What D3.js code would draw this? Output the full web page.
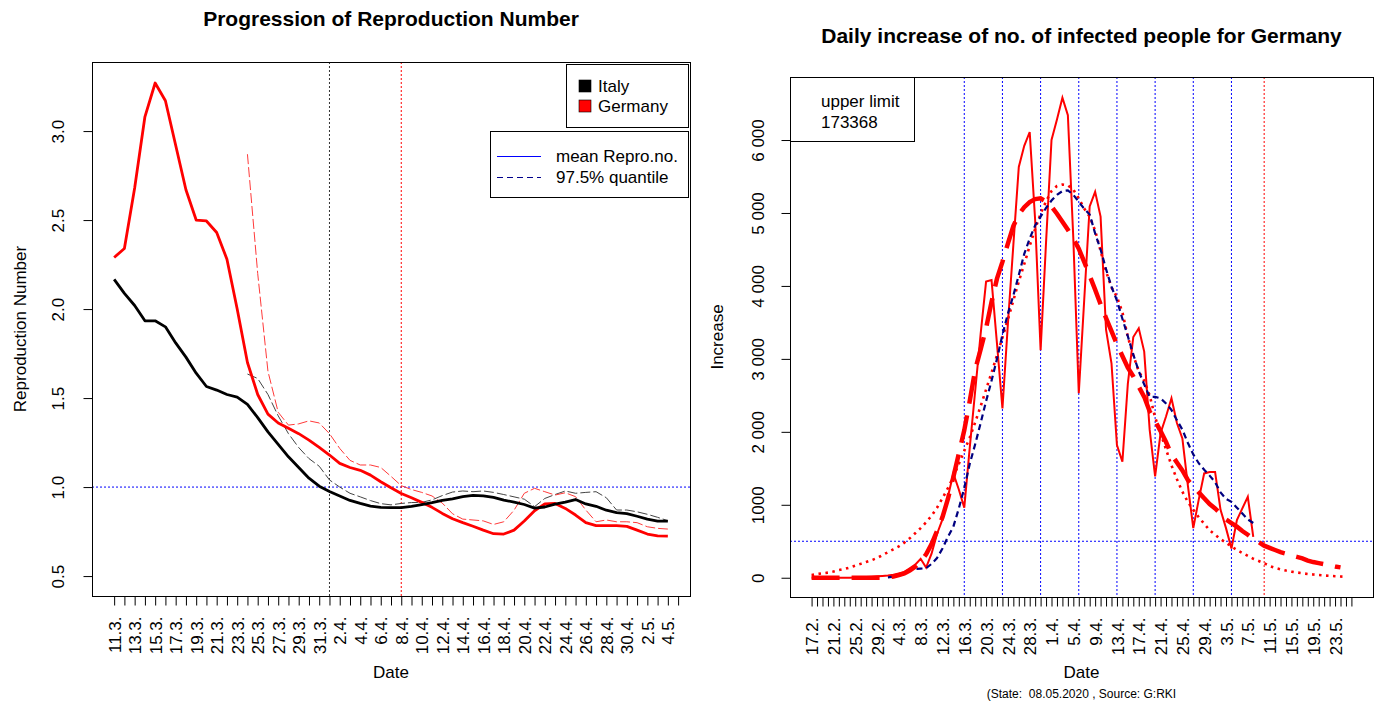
<!DOCTYPE html>
<html>
<head>
<meta charset="utf-8">
<script src="https://cdn.jsdelivr.net/npm/d3@7"></script>
<style>
  body { margin: 0; background: #fff; }
  svg { font-family: "Liberation Sans", Arial, sans-serif; }
</style>
</head>
<body>
<script>
// ---------------- data: left panel (day 0 = 11.3.) ----------------
const leftDateLabels = ["11.3.","13.3.","15.3.","17.3.","19.3.","21.3.","23.3.","25.3.","27.3.","29.3.",
  "31.3.","2.4.","4.4.","6.4.","8.4.","10.4.","12.4.","14.4.","16.4.","18.4.","20.4.","22.4.",
  "24.4.","26.4.","28.4.","30.4.","2.5.","4.5."];
const leftTickCount = 56;
const leftYTicks = [0.5, 1.0, 1.5, 2.0, 2.5, 3.0];

const germanyR = [2.29, 2.34, 2.68, 3.08, 3.27, 3.17, 2.92, 2.67, 2.50, 2.495, 2.43, 2.28, 2.00, 1.70,
  1.52, 1.41, 1.36, 1.33, 1.30, 1.264, 1.223, 1.18, 1.133, 1.11, 1.094, 1.067, 1.03, 0.996, 0.964,
  0.94, 0.914, 0.886, 0.852, 0.822, 0.80, 0.78, 0.758, 0.738, 0.736, 0.758, 0.809, 0.867, 0.905,
  0.908, 0.88, 0.843, 0.80, 0.783, 0.783, 0.783, 0.779, 0.758, 0.736, 0.726, 0.724];
const italyR = [2.167, 2.088, 2.02, 1.934, 1.934, 1.90, 1.81, 1.73, 1.64, 1.565, 1.545, 1.52, 1.505,
  1.465, 1.39, 1.31, 1.24, 1.17, 1.11, 1.05, 1.005, 0.975, 0.95, 0.925, 0.908, 0.893, 0.886, 0.885,
  0.885, 0.892, 0.902, 0.912, 0.925, 0.934, 0.946, 0.953, 0.951, 0.942, 0.927, 0.915, 0.902, 0.882,
  0.888, 0.904, 0.916, 0.93, 0.905, 0.892, 0.87, 0.856, 0.851, 0.836, 0.82, 0.809, 0.809];
// 97.5% quantiles start at day 13 (24.3.)
const quantileStart = 13;
const germanyQ = [2.87, 2.2, 1.65, 1.42, 1.348, 1.355, 1.372, 1.36, 1.30, 1.217, 1.15, 1.124, 1.124,
  1.11, 1.06, 1.008, 0.986, 0.97, 0.95, 0.91, 0.85, 0.82, 0.815, 0.81, 0.79, 0.805, 0.87, 0.965,
  0.993, 0.974, 0.955, 0.968, 0.946, 0.871, 0.805, 0.815, 0.805, 0.805, 0.80, 0.777, 0.768, 0.764];
const italyQ = [1.635, 1.61, 1.52, 1.40, 1.30, 1.222, 1.16, 1.117, 1.04, 1.0, 0.965, 0.945, 0.924,
  0.907, 0.90, 0.908, 0.913, 0.914, 0.928, 0.952, 0.972, 0.978, 0.974, 0.978, 0.97, 0.958, 0.945,
  0.932, 0.89, 0.936, 0.958, 0.978, 0.965, 0.97, 0.974, 0.94, 0.871, 0.871, 0.861, 0.847, 0.83, 0.811];
const leftMarkBlack = 21;   // 1.4.
const leftMarkRed = 28;     // 8.4.
const leftThreshold = 1.0;

// ---------------- data: right panel (day 0 = 17.2.) ----------------
const rightDateLabels = ["17.2.","21.2.","25.2.","29.2.","4.3.","8.3.","12.3.","16.3.","20.3.","24.3.",
  "28.3.","1.4.","5.4.","9.4.","13.4.","17.4.","21.4.","25.4.","29.4.","3.5.","7.5.","11.5.",
  "15.5.","19.5.","23.5."];
const rightTickCount = 100;
const rightYTicks = [0, 1000, 2000, 3000, 4000, 5000, 6000];
const rightYLabels = ["0", "1000", "2 000", "3 000", "4 000", "5 000", "6 000"];

const dailyIncrease = [0, 0, 0, 0, 0, 0, 0, 0, 2, 5,
  10, 15, 20, 25, 30, 40, 60, 80, 130, 180,
  260, 140, 330, 600, 800, 1110, 1430, 1210, 960, 1780,
  2560, 3340, 4060, 4080, 3210, 2320, 3480, 4560, 5630, 5920,
  6110, 4900, 3120, 4600, 6000, 6280, 6580, 6340, 4650, 2530,
  3810, 5090, 5290, 4950, 3400, 2940, 1820, 1590, 2660, 3300,
  3420, 3100, 2030, 1390, 1980, 2210, 2460, 2120, 1910, 1270,
  680, 1070, 1430, 1450, 1450, 930, 680, 400, 790, 950,
  1110, 560];
const fitMean = [0, 0, 0, 0, 0, 0, 0, 0, 0, 0,
  0, 0, 0, 0, 5, 15, 35, 60, 100, 150,
  220, 320, 460, 640, 830, 1080, 1380, 1700, 2020, 2420,
  2850, 3130, 3420, 3780, 4100, 4330, 4580, 4820, 4980, 5080,
  5150, 5190, 5200, 5160, 5090, 4990, 4880, 4770, 4650, 4510,
  4330, 4140, 3950, 3750, 3560, 3380, 3200, 3040, 2880, 2760,
  2620, 2480, 2280, 2150, 2010, 1860, 1690, 1580, 1470, 1340,
  1250, 1170, 1090, 1010, 950, 880, 800, 750, 700, 640,
  590, 530, 490, 440, 410, 380, 350, 330, 305, 285,
  265, 235, 215, 200, 185, 170, 155, 142];
const fitWide = [37, 50, 60, 70, 85, 105, 120, 140, 165, 190,
  215, 240, 270, 310, 350, 390, 430, 480, 540, 610,
  680, 760, 850, 960, 1090, 1230, 1380, 1560, 1740, 1920,
  2130, 2350, 2580, 2810, 3050, 3290, 3540, 3800, 4060, 4300,
  4550, 4780, 4990, 5160, 5300, 5370, 5390, 5380, 5320, 5200,
  5060, 4950, 4760, 4480, 4200, 3980, 3850, 3640, 3300, 3050,
  2830, 2700, 2500, 2200, 1980, 1760, 1540, 1350, 1180, 1040,
  930, 830, 740, 650, 590, 530, 480, 430, 380, 340,
  300, 260, 230, 200, 160, 135, 115, 98, 84, 72,
  62, 52, 44, 37, 31, 26, 21, 17, 14];
const fitNavyStart = 14;
const fitNavy = [5, 15, 35, 70, 100, 120, 125, 130, 190, 270,
  400, 560, 700, 950, 1230, 1560, 1830, 2120, 2420, 2700,
  3000, 3330, 3620, 3870, 4150, 4440, 4650, 4830, 4950, 5070,
  5170, 5250, 5300, 5310, 5250, 5150, 5060, 4980, 4720, 4500,
  4230, 3990, 3800, 3550, 3310, 3060, 2830, 2650, 2480, 2480,
  2460, 2390, 2300, 2160, 2030, 1850, 1690, 1570, 1480, 1400,
  1310, 1170, 1080, 1040, 960, 880, 800, 750];
const rightWeekDays = [28, 35, 42, 49, 56, 63, 70, 77];
const rightMarkRed = 83;
const rightThreshold = 500;
const upperLimit = "173368";

// ---------------- canvas ----------------
const svg = d3.select("body").append("svg")
  .attr("width", 1382)
  .attr("height", 702);

const FS = 17;

function styleAxis(g) {
  g.attr("font-size", FS).attr("font-family", null);
  g.select(".domain").remove();
  g.selectAll(".tick line").attr("stroke", "#000");
  g.selectAll(".tick text").attr("fill", "#000");
}

// ================= LEFT PANEL =================
const L = { left: 92, right: 690, top: 62, bottom: 596 };
const xL = d3.scaleLinear().domain([-2.16, 56.16]).range([L.left, L.right]);
const yL = d3.scaleLinear().domain([0.388, 3.388]).range([L.bottom, L.top]);

// reference lines
svg.append("line")
  .attr("x1", L.left).attr("x2", L.right)
  .attr("y1", yL(leftThreshold)).attr("y2", yL(leftThreshold))
  .attr("stroke", "#0000ff").attr("stroke-dasharray", "2,2");
svg.append("line")
  .attr("x1", xL(leftMarkBlack)).attr("x2", xL(leftMarkBlack))
  .attr("y1", L.top).attr("y2", L.bottom)
  .attr("stroke", "#333").attr("stroke-dasharray", "2,2");
svg.append("line")
  .attr("x1", xL(leftMarkRed)).attr("x2", xL(leftMarkRed))
  .attr("y1", L.top).attr("y2", L.bottom)
  .attr("stroke", "#ff0000").attr("stroke-dasharray", "2,2");

const lineL = d3.line().x(d => xL(d.day)).y(d => yL(d.v));
const asPoints = (arr, start) => arr.map((v, i) => ({ day: start + i, v }));

// 97.5% quantiles (thin dashed)
svg.append("path").datum(asPoints(italyQ, quantileStart))
  .attr("d", lineL).attr("fill", "none")
  .attr("stroke", "#444").attr("stroke-width", 1).attr("stroke-dasharray", "10,3");
svg.append("path").datum(asPoints(germanyQ, quantileStart))
  .attr("d", lineL).attr("fill", "none")
  .attr("stroke", "#ff3a3a").attr("stroke-width", 1).attr("stroke-dasharray", "10,3");

// mean reproduction numbers (thick)
svg.append("path").datum(asPoints(germanyR, 0))
  .attr("d", lineL).attr("fill", "none")
  .attr("stroke", "#ff0000").attr("stroke-width", 2.8).attr("stroke-linejoin", "round");
svg.append("path").datum(asPoints(italyR, 0))
  .attr("d", lineL).attr("fill", "none")
  .attr("stroke", "#000").attr("stroke-width", 2.8).attr("stroke-linejoin", "round");

// box
svg.append("rect")
  .attr("x", L.left + 0.5).attr("y", L.top + 0.5)
  .attr("width", L.right - L.left).attr("height", L.bottom - L.top)
  .attr("fill", "none").attr("stroke", "#000");

// axes
const axLB = svg.append("g")
  .attr("transform", `translate(0,${L.bottom + 0.5})`)
  .call(d3.axisBottom(xL).tickValues(d3.range(leftTickCount)).tickSize(9)
    .tickFormat(d => d % 2 === 0 ? leftDateLabels[d / 2] : ""));
styleAxis(axLB);
axLB.selectAll(".tick text")
  .attr("transform", "rotate(-90)").attr("text-anchor", "end")
  .attr("x", -20).attr("y", 0).attr("dy", "0.36em");

const axLL = svg.append("g")
  .attr("transform", `translate(${L.left + 0.5},0)`)
  .call(d3.axisLeft(yL).tickValues(leftYTicks).tickSize(9).tickFormat(d3.format(".1f")));
styleAxis(axLL);
axLL.selectAll(".tick text")
  .attr("transform", "rotate(-90)").attr("text-anchor", "middle")
  .attr("x", 0).attr("y", -29).attr("dy", 0);

// titles and labels
svg.append("text")
  .attr("x", (L.left + L.right) / 2).attr("y", 26)
  .attr("text-anchor", "middle").attr("font-size", 21).attr("font-weight", "bold")
  .text("Progression of Reproduction Number");
svg.append("text")
  .attr("x", (L.left + L.right) / 2).attr("y", 678)
  .attr("text-anchor", "middle").attr("font-size", FS)
  .text("Date");
svg.append("text")
  .attr("transform", `translate(26,${(L.top + L.bottom) / 2}) rotate(-90)`)
  .attr("text-anchor", "middle").attr("font-size", FS)
  .text("Reproduction Number");

// legend: countries
const leg1 = svg.append("g").attr("transform", "translate(566,64)");
leg1.append("rect").attr("x", 0.5).attr("y", 0.5).attr("width", 122).attr("height", 63)
  .attr("fill", "#fff").attr("stroke", "#000");
[["Italy", "#000"], ["Germany", "#ff0000"]].forEach(([name, col], i) => {
  leg1.append("rect").attr("x", 13).attr("y", 16 + i * 20).attr("width", 12).attr("height", 12)
    .attr("fill", col).attr("stroke", "#000").attr("stroke-width", 0.6);
  leg1.append("text").attr("x", 32).attr("y", 28 + i * 20).attr("font-size", FS).text(name);
});

// legend: line types
const leg2 = svg.append("g").attr("transform", "translate(490,131)");
leg2.append("rect").attr("x", 0.5).attr("y", 0.5).attr("width", 198).attr("height", 66)
  .attr("fill", "#fff").attr("stroke", "#000");
leg2.append("line").attr("x1", 7).attr("x2", 51).attr("y1", 25.5).attr("y2", 25.5)
  .attr("stroke", "#0000ff");
leg2.append("line").attr("x1", 7).attr("x2", 51).attr("y1", 46.5).attr("y2", 46.5)
  .attr("stroke", "#00008b").attr("stroke-dasharray", "6,4");
leg2.append("text").attr("x", 66).attr("y", 31).attr("font-size", FS).text("mean Repro.no.");
leg2.append("text").attr("x", 66).attr("y", 52).attr("font-size", FS).text("97.5% quantile");

// ================= RIGHT PANEL =================
const R = { left: 790, right: 1373, top: 77, bottom: 597 };
const xR = d3.scaleLinear().domain([-3.96, 102.96]).range([R.left, R.right]);
const yR = d3.scaleLinear().domain([-264, 6864]).range([R.bottom, R.top]);

rightWeekDays.forEach(d => {
  svg.append("line")
    .attr("x1", xR(d)).attr("x2", xR(d)).attr("y1", R.top).attr("y2", R.bottom)
    .attr("stroke", "#0000ff").attr("stroke-dasharray", "2,2");
});
svg.append("line")
  .attr("x1", xR(rightMarkRed)).attr("x2", xR(rightMarkRed)).attr("y1", R.top).attr("y2", R.bottom)
  .attr("stroke", "#ff0000").attr("stroke-dasharray", "2,2");
svg.append("line")
  .attr("x1", R.left).attr("x2", R.right)
  .attr("y1", yR(rightThreshold)).attr("y2", yR(rightThreshold))
  .attr("stroke", "#0000ff").attr("stroke-dasharray", "2,2");

const lineR = d3.line().x(d => xR(d.day)).y(d => yR(d.v));

svg.append("path").datum(asPoints(dailyIncrease, 0))
  .attr("d", lineR).attr("fill", "none")
  .attr("stroke", "#ff0000").attr("stroke-width", 2);
svg.append("path").datum(asPoints(fitWide, 0))
  .attr("d", lineR).attr("fill", "none")
  .attr("stroke", "#ff0000").attr("stroke-width", 2.6).attr("stroke-dasharray", "2.5,4.5");
svg.append("path").datum(asPoints(fitNavy, fitNavyStart))
  .attr("d", lineR).attr("fill", "none")
  .attr("stroke", "#000080").attr("stroke-width", 2.2).attr("stroke-dasharray", "6,4");
svg.append("path").datum(asPoints(fitMean, 0))
  .attr("d", lineR).attr("fill", "none")
  .attr("stroke", "#ff0000").attr("stroke-width", 4.5).attr("stroke-dasharray", "28,12");

svg.append("rect")
  .attr("x", R.left + 0.5).attr("y", R.top + 0.5)
  .attr("width", R.right - R.left).attr("height", R.bottom - R.top)
  .attr("fill", "none").attr("stroke", "#000");

const axRB = svg.append("g")
  .attr("transform", `translate(0,${R.bottom + 0.5})`)
  .call(d3.axisBottom(xR).tickValues(d3.range(rightTickCount)).tickSize(9)
    .tickFormat(d => d % 4 === 0 && d / 4 < rightDateLabels.length ? rightDateLabels[d / 4] : ""));
styleAxis(axRB);
axRB.selectAll(".tick text")
  .attr("transform", "rotate(-90)").attr("text-anchor", "end")
  .attr("x", -20).attr("y", 0).attr("dy", "0.36em");

const axRL = svg.append("g")
  .attr("transform", `translate(${R.left + 0.5},0)`)
  .call(d3.axisLeft(yR).tickValues(rightYTicks).tickSize(9)
    .tickFormat((d, i) => rightYLabels[i]));
styleAxis(axRL);
axRL.selectAll(".tick text")
  .attr("transform", "rotate(-90)").attr("text-anchor", "middle")
  .attr("x", 0).attr("y", -27).attr("dy", 0);

svg.append("text")
  .attr("x", (R.left + R.right) / 2).attr("y", 43)
  .attr("text-anchor", "middle").attr("font-size", 21).attr("font-weight", "bold")
  .text("Daily increase of no. of infected people for Germany");
svg.append("text")
  .attr("x", (R.left + R.right) / 2).attr("y", 678)
  .attr("text-anchor", "middle").attr("font-size", FS)
  .text("Date");
svg.append("text")
  .attr("x", (R.left + R.right) / 2).attr("y", 698)
  .attr("text-anchor", "middle").attr("font-size", 12)
  .style("white-space", "pre")
  .text("(State:  08.05.2020 , Source: G:RKI");
svg.append("text")
  .attr("transform", `translate(723,${(R.top + R.bottom) / 2}) rotate(-90)`)
  .attr("text-anchor", "middle").attr("font-size", FS)
  .text("Increase");

const leg3 = svg.append("g").attr("transform", `translate(${R.left},${R.top})`);
leg3.append("rect").attr("x", 0.5).attr("y", 0.5).attr("width", 124).attr("height", 64)
  .attr("fill", "#fff").attr("stroke", "#000");
leg3.append("text").attr("x", 31).attr("y", 30).attr("font-size", FS).text("upper limit");
leg3.append("text").attr("x", 31).attr("y", 51).attr("font-size", FS).text(upperLimit);
</script>
</body>
</html>
